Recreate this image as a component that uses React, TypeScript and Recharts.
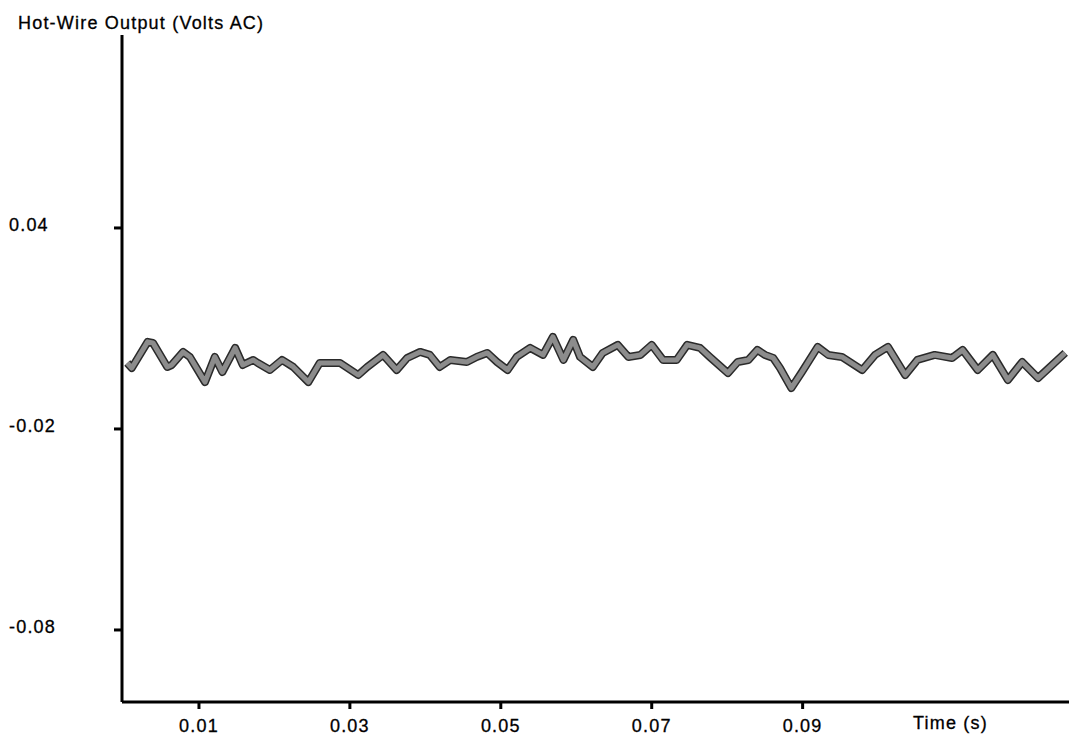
import React from 'react';
import { LineChart, Line, XAxis, YAxis } from 'recharts';

// hot-wire trace
const TIME = [
  0.0005, 0.0011, 0.0032, 0.0039, 0.0058, 0.0064, 0.0079, 0.0088, 0.0108, 0.0121,
  0.0131, 0.0148, 0.0158, 0.0172, 0.0178, 0.0194, 0.0210, 0.0225, 0.0245, 0.0260,
  0.0287, 0.0311, 0.0323, 0.0344, 0.0362, 0.0376, 0.0393, 0.0406, 0.0419, 0.0433,
  0.0455, 0.0468, 0.0482, 0.0495, 0.0509, 0.0521, 0.0539, 0.0556, 0.0569, 0.0583,
  0.0596, 0.0605, 0.0622, 0.0635, 0.0655, 0.0669, 0.0685, 0.0700, 0.0715, 0.0733,
  0.0747, 0.0764, 0.0777, 0.0801, 0.0814, 0.0828, 0.0840, 0.0850, 0.0861, 0.0870,
  0.0885, 0.0899, 0.0920, 0.0934, 0.0952, 0.0979, 0.0996, 0.1013, 0.1036, 0.1052,
  0.1075, 0.1098, 0.1112, 0.1132, 0.1152, 0.1172, 0.1191, 0.1212, 0.1248,
];

const VOLTS = [
  -0.0003, -0.0018, 0.0060, 0.0057, -0.0015, -0.0009, 0.0030, 0.0015, -0.0060, 0.0015,
  -0.0030, 0.0042, -0.0009, 0.0006, -0.0003, -0.0024, 0.0006, -0.0015, -0.0060, -0.0003,
  -0.0003, -0.0039, -0.0015, 0.0021, -0.0024, 0.0012, 0.0030, 0.0021, -0.0015, 0.0006,
  0.0000, 0.0015, 0.0027, 0.0000, -0.0024, 0.0015, 0.0042, 0.0021, 0.0075, 0.0006,
  0.0066, 0.0015, -0.0015, 0.0027, 0.0051, 0.0015, 0.0021, 0.0051, 0.0006, 0.0006,
  0.0051, 0.0042, 0.0015, -0.0033, 0.0000, 0.0006, 0.0036, 0.0021, 0.0012, -0.0018,
  -0.0078, -0.0030, 0.0045, 0.0021, 0.0015, -0.0024, 0.0021, 0.0045, -0.0039, 0.0006,
  0.0021, 0.0012, 0.0036, -0.0024, 0.0021, -0.0054, 0.0000, -0.0048, 0.0027,
];

const X_TICKS = [0.01, 0.03, 0.05, 0.07, 0.09];
const Y_TICKS = [0.04, -0.02, -0.08];

const FONT = '"Liberation Sans", Arial, sans-serif';

const data = TIME.map((t, i) => ({ t, v: VOLTS[i] }));

function XTick(props: any) {
  const { x, y, payload } = props;
  return (
    <text x={x} y={y} dy={21} textAnchor="middle" fontFamily={FONT} fontSize={18}
      letterSpacing={1.2} fill="#000" stroke="#000" strokeWidth={0.3}>
      {payload.value.toFixed(2)}
    </text>
  );
}

function YTick(props: any) {
  const { y, payload } = props;
  return (
    <text x={9} y={y} dy={3} textAnchor="start" fontFamily={FONT} fontSize={18}
      letterSpacing={1.2} fill="#000" stroke="#000" strokeWidth={0.3}>
      {payload.value.toFixed(2)}
    </text>
  );
}

const labelStyle: React.CSSProperties = {
  position: 'absolute', fontFamily: FONT, fontSize: 18, letterSpacing: 1.2,
  whiteSpace: 'nowrap', lineHeight: '22px', WebkitTextStroke: '0.3px #000',
};

export default function App() {
  return (
    <div style={{ position: 'absolute', left: 0, top: 0, width: 1069, height: 738, background: '#fff' }}>
      <LineChart width={1069} height={738} data={data}
        margin={{ top: 35, right: 0, bottom: 0, left: 0 }}>
        <XAxis
          type="number"
          dataKey="t"
          domain={[-0.0002, 0.1253]}
          allowDataOverflow
          ticks={X_TICKS}
          tick={<XTick />}
          height={36}
          tickSize={7}
          axisLine={{ stroke: '#000', strokeWidth: 3 }}
          tickLine={{ stroke: '#000', strokeWidth: 3 }}
        />
        <YAxis
          type="number"
          domain={[-0.1015, 0.0976]}
          allowDataOverflow
          ticks={Y_TICKS}
          tick={<YTick />}
          width={122}
          tickSize={8}
          axisLine={{ stroke: '#000', strokeWidth: 3 }}
          tickLine={{ stroke: '#000', strokeWidth: 3 }}
        />
        <Line type="linear" dataKey="v" stroke="#2a2a2a" strokeWidth={8} dot={false}
          strokeLinejoin="round" isAnimationActive={false} />
        <Line type="linear" dataKey="v" stroke="#8c8c8c" strokeWidth={5} dot={false}
          strokeLinejoin="round" isAnimationActive={false} />
      </LineChart>
      <div style={{ ...labelStyle, left: 18, top: 12 }}>
        Hot-Wire Output (Volts AC)
      </div>
      <div style={{ ...labelStyle, left: 913, top: 712 }}>
        Time (s)
      </div>
    </div>
  );
}
